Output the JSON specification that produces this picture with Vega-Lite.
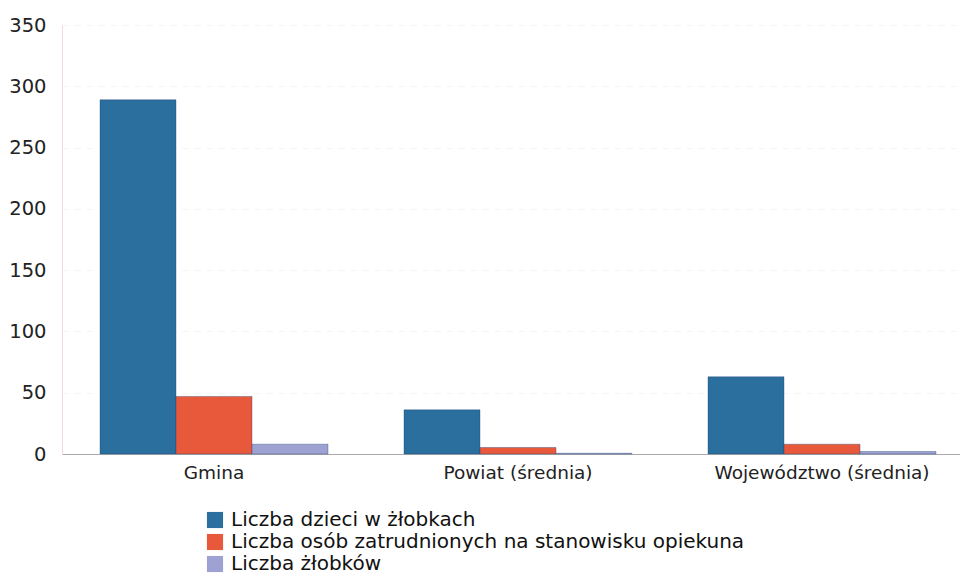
{
  "$schema": "https://vega.github.io/schema/vega-lite/v6.json",
  "autosize": "none",
  "padding": {"left": 62, "top": 25, "right": 0, "bottom": 126},
  "width": 898,
  "height": 429,
  "background": "white",
  "config": {
    "font": "DejaVu Sans",
    "view": {"stroke": null}
  },
  "data": {
    "values": [
      {"grupa": "Gmina", "seria": "Liczba dzieci w żłobkach", "wartosc": 289},
      {"grupa": "Gmina", "seria": "Liczba osób zatrudnionych na stanowisku opiekuna", "wartosc": 47},
      {"grupa": "Gmina", "seria": "Liczba żłobków", "wartosc": 8},
      {"grupa": "Powiat (średnia)", "seria": "Liczba dzieci w żłobkach", "wartosc": 36},
      {"grupa": "Powiat (średnia)", "seria": "Liczba osób zatrudnionych na stanowisku opiekuna", "wartosc": 5.3},
      {"grupa": "Powiat (średnia)", "seria": "Liczba żłobków", "wartosc": 0.6},
      {"grupa": "Województwo (średnia)", "seria": "Liczba dzieci w żłobkach", "wartosc": 63},
      {"grupa": "Województwo (średnia)", "seria": "Liczba osób zatrudnionych na stanowisku opiekuna", "wartosc": 8},
      {"grupa": "Województwo (średnia)", "seria": "Liczba żłobków", "wartosc": 2}
    ]
  },
  "mark": {"type": "bar", "stroke": "#1f3f70", "strokeWidth": 0.6, "strokeOpacity": 0.6},
  "encoding": {
    "x": {
      "field": "grupa",
      "type": "nominal",
      "sort": null,
      "scale": {"paddingInner": 0.25, "paddingOuter": 0.125, "range": [0, 912]},
      "axis": {
        "title": null,
        "labelAngle": 0,
        "labelFontSize": 18.5,
        "labelColor": "#222",
        "labelPadding": 9,
        "labelLimit": 400,
        "ticks": false,
        "domainColor": "#aaaaaa",
        "domainWidth": 1
      }
    },
    "xOffset": {"field": "seria", "type": "nominal", "sort": null},
    "y": {
      "field": "wartosc",
      "type": "quantitative",
      "scale": {"domain": [0, 350], "nice": false},
      "axis": {
        "title": null,
        "values": [0, 50, 100, 150, 200, 250, 300, 350],
        "labelFontSize": 19.5,
        "labelColor": "#222",
        "labelPadding": 16,
        "ticks": false,
        "domain": true,
        "domainColor": "#f3d8dc",
        "grid": true,
        "gridColor": "#f4f4f4",
        "gridDash": [6, 6]
      }
    },
    "color": {
      "field": "seria",
      "type": "nominal",
      "sort": null,
      "scale": {
        "domain": ["Liczba dzieci w żłobkach", "Liczba osób zatrudnionych na stanowisku opiekuna", "Liczba żłobków"],
        "range": ["#2a6f9e", "#e8583a", "#9ea2d2"]
      },
      "legend": {
        "title": null,
        "orient": "none",
        "legendX": 143,
        "legendY": 485,
        "direction": "vertical",
        "symbolType": "square",
        "symbolSize": 260,
        "symbolStrokeWidth": 0,
        "labelFontSize": 20,
        "labelColor": "#111",
        "labelLimit": 700,
        "rowPadding": 2,
        "labelOffset": 6
      }
    }
  }
}
